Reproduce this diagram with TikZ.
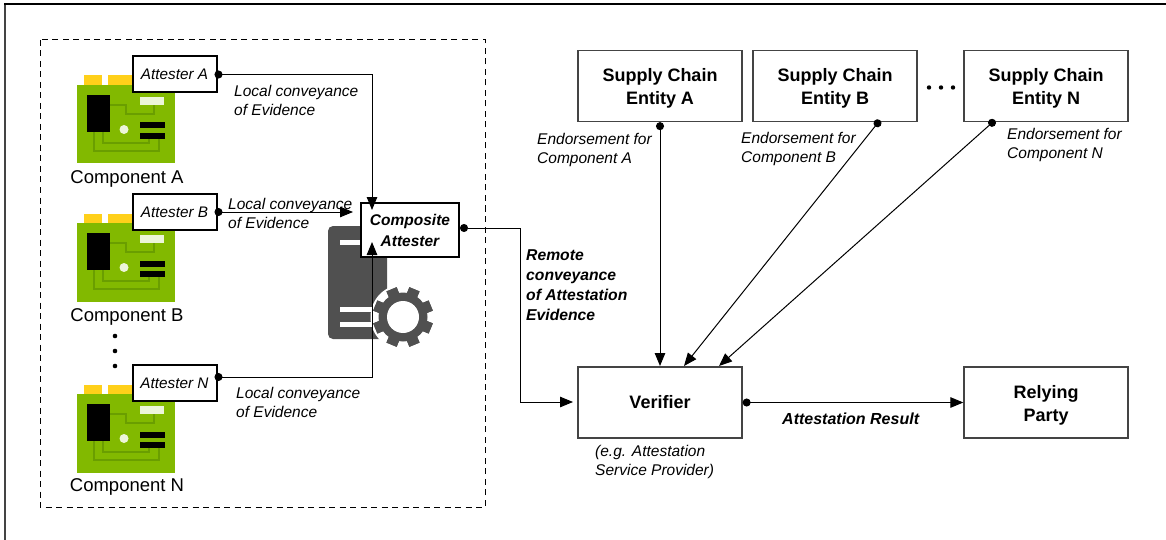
\documentclass[tikz,border=0pt]{standalone}
\usepackage{fontspec}
\setmainfont{Liberation Sans}
\usetikzlibrary{arrows.meta}
\definecolor{pcbg}{HTML}{82B900}
\definecolor{pcbd}{HTML}{6A9E00}
\definecolor{pcby}{HTML}{FFD01A}
\definecolor{srv}{HTML}{505050}
\definecolor{edge}{HTML}{444444}
\tikzset{
  x=1pt,y=-1pt,
  box/.style={draw=edge,line width=1.3pt,fill=white,align=center,font=\fontsize{18}{23}\selectfont\bfseries,inner sep=0pt,minimum width=164pt,minimum height=71pt},
  attbox/.style={draw=black,line width=2pt,fill=white,align=center,minimum width=84pt,minimum height=36pt,inner sep=0pt,font=\fontsize{15.3}{20}\selectfont\itshape},
  lbl/.style={align=left,anchor=west,inner sep=0pt,font=\fontsize{15.5}{19}\selectfont\itshape},
  blbl/.style={align=left,anchor=west,inner sep=0pt,font=\fontsize{15.7}{20}\selectfont\itshape\bfseries},
  comp/.style={anchor=center,inner sep=0pt,font=\fontsize{18.5}{20}\selectfont},
  conn/.style={line width=1pt,draw=black,{Circle[length=8pt,width=8pt]}-{Triangle[length=13pt,width=10.5pt]}},
}
\newcommand{\pcb}[2]{%
  \begin{scope}[shift={(#1,#2)}]
    \fill[pcby] (7,-9.5) rectangle (25,0);
    \fill[pcby] (31,-9.5) rectangle (60,0);
    \fill[pcbg] (0,0) rectangle (98,78.5);
    \draw[pcbd,line width=2.2pt] (33,20) -- (49,20) -- (49,29) -- (77,29) -- (77,20);
    \draw[pcbd,line width=2.2pt] (26,46) -- (26,58) -- (72,58) -- (72,50);
    \draw[pcbd,line width=2.2pt] (17,46) -- (17,66) -- (82,66) -- (82,52);
    \fill[black] (10,10) rectangle (33,47);
    \fill[white!85!pcbg] (63,12) rectangle (87,20);
    \fill[white!85!pcbg] (47,44.5) circle (4.5);
    \fill[black] (63,37.5) rectangle (88,43.5);
    \fill[black] (63,48) rectangle (88,54);
  \end{scope}}
\begin{document}
\begin{tikzpicture}
\useasboundingbox (0,0) rectangle (1166,540);
\fill[white] (0,0) rectangle (1166,540);
\draw[edge,line width=1.2pt] (5,540) -- (5,4);
\draw[black,line width=1.6pt] (4.4,4) -- (1166,4);
\draw[black,line width=1pt,dash pattern=on 6pt off 4.5pt] (40,40) rectangle (485,507);

\pcb{77}{85}
\pcb{77}{223}
\pcb{77}{394}

% server
\fill[srv,rounded corners=5pt] (328,226) -- (387,226) -- (387,339) -- (328,339) -- cycle;
\fill[white] (340,240) rectangle (362,245);
\fill[white] (340,307) rectangle (375,312);
\fill[white] (340,322) rectangle (375,327);
\fill[white] (403,317) circle (32.5);
\foreach \a in {0,45,...,315}{
  \fill[srv,rotate around={\a+22.5:(403,317)}] (397.5,287) rectangle (408.5,347);
}
\fill[srv] (403,317) circle (24.5);
\fill[white] (403,317) circle (16);

\node[comp] (compA) at (127,178.5) {Component A};
\node[comp] (compB) at (127,316.5) {Component B};
\node[comp] (compN) at (127,486.5) {Component N};
\foreach \yy in {336,351,366}{\fill[black] (115,\yy) circle (2.3);}

\node[attbox] (attA) at (174.5,74.5) {Attester A};
\node[attbox] (attB) at (174.5,212) {Attester B};
\node[attbox] (attN) at (174.5,383) {Attester N};
\node[attbox,minimum width=98pt,minimum height=54pt,font=\fontsize{15.5}{21}\selectfont\itshape\bfseries] (cmp) at (410,230) {Composite\\Attester};

\node[box] (sA) at (660,86) {\rule{0pt}{17.5pt}Supply Chain\\Entity A};
\node[box] (sB) at (835,86) {\rule{0pt}{17.5pt}Supply Chain\\Entity B};
\node[box] (sN) at (1046,86) {\rule{0pt}{17.5pt}Supply Chain\\Entity N};
\node[box] (ver) at (660,402.5) {Verifier};
\node[box] (rp) at (1046,402.5) {\rule{0pt}{19.5pt}Relying\\Party};

\foreach \xx in {929,941,953}{\fill[black] (\xx,87.5) circle (2.2);}

\draw[conn,shorten <=-3pt] (attA.east) -- (372,74.5) -- (372,210);
\draw[conn,shorten <=-3pt] (attB.east) -- (353,212);
\draw[conn,shorten <=-3pt] ([yshift=6pt]attN.east) -- (372,377) -- (372,242);
\draw[conn] ([yshift=2pt]cmp.east) -- (520,228) -- (520,402) -- (573,402);
\draw[conn] (sA.south) -- (660,366);
\draw[conn] ([xshift=45pt,yshift=2pt]sB.south) -- (684,366);
\draw[conn] ([xshift=-51pt,yshift=2pt]sN.south) -- (719,366);
\draw[conn] (ver.east) -- (rp.west);

\node[lbl] (l1) at (234,100.5) {Local conveyance\\of Evidence};
\node[lbl] (l2) at (228,213.5) {Local conveyance\\of Evidence};
\node[lbl] (l3) at (236,402) {Local conveyance\\of Evidence};
\node[blbl] (l4) at (526,285.5) {Remote\\conveyance\\of Attestation\\Evidence};
\node[lbl] (l5) at (537,149.5) {Endorsement for\\Component A};
\node[lbl] (l6) at (741,148.5) {Endorsement for\\Component B};
\node[lbl] (l7) at (1007,145) {Endorsement for\\Component N};
\node[blbl,font=\fontsize{16}{20}\selectfont\itshape\bfseries] (l8) at (782,419) {Attestation Result};
\node[lbl] (l9) at (595,462) {(e.g. Attestation\\Service Provider)};
\end{tikzpicture}
\end{document}
